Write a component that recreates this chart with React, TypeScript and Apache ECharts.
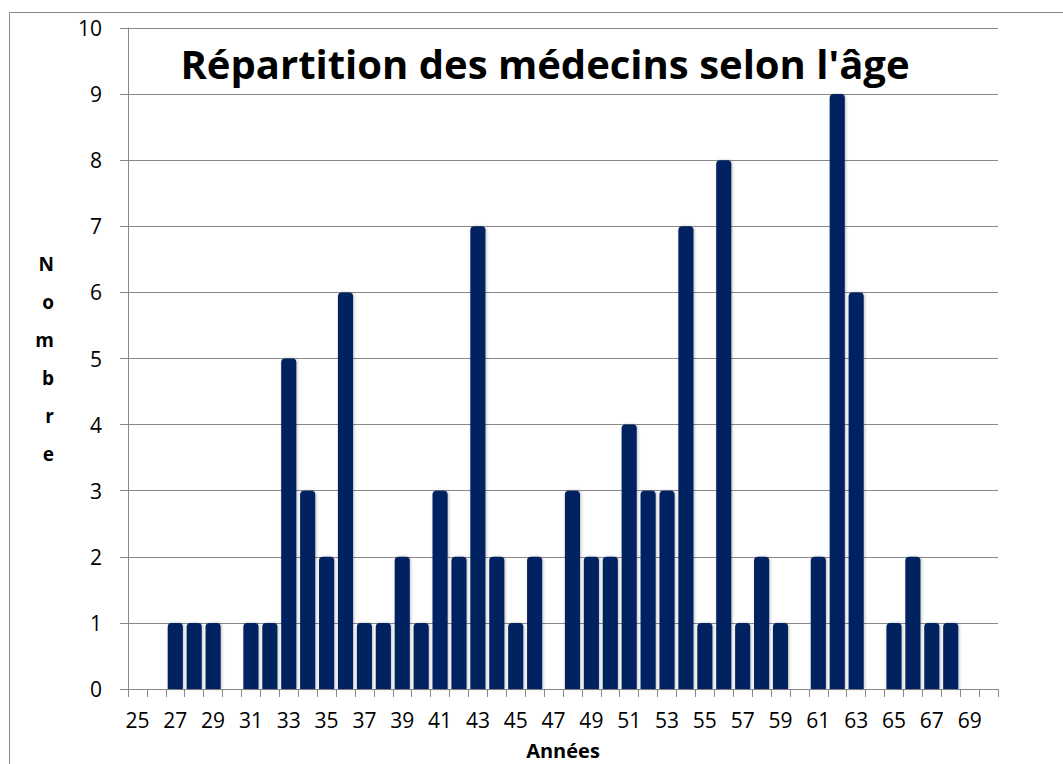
import React, { useEffect, useRef } from "react";
import * as echarts from "echarts";

const ages: string[] = [
  "25","26","27","28","29","30","31","32","33","34","35","36","37","38","39","40","41","42","43","44","45","46","47",
  "48","49","50","51","52","53","54","55","56","57","58","59","60","61","62","63","64","65","66","67","68","69","70",
];
const counts: number[] = [
  0, 0, 1, 1, 1, 0, 1, 1, 5, 3, 2, 6, 1, 1, 2, 1, 3, 2, 7, 2, 1, 2, 0,
  3, 2, 2, 4, 3, 3, 7, 1, 8, 1, 2, 1, 0, 2, 9, 6, 0, 1, 2, 1, 1, 0, 0,
];
const titleText = "Répartition des médecins selon l'âge";
const yName = "Nombre";
const xName = "Années";

export default function App() {
  const ref = useRef<HTMLDivElement>(null);
  useEffect(() => {
    if (!ref.current) return;
    const chart = echarts.init(ref.current, undefined, { renderer: "svg" });
    const gray = "#898989";
    const font = "'Open Sans', 'Liberation Sans', sans-serif";
    chart.setOption({
      animation: false,
      backgroundColor: "#ffffff",
      title: {
        text: titleText,
        left: 540,
        textAlign: "center",
        top: 38,
        textStyle: { fontFamily: font, fontWeight: "bold", fontSize: 40, color: "#000" },
      },
      graphic: [
        {
          type: "rect",
          shape: { x: 9.5, y: 12.5, width: 1070, height: 770 },
          style: { fill: "none", stroke: gray, lineWidth: 1 },
          silent: true,
          z: -1,
        },
      ],
      grid: { left: 128, top: 28, width: 870, height: 661, containLabel: false, outerBoundsMode: "none" },
      xAxis: {
        type: "category",
        data: ages,
        name: xName,
        nameLocation: "middle",
        nameGap: 51,
        nameTextStyle: { fontFamily: font, fontWeight: "bold", fontSize: 20, color: "#000" },
        axisLine: { lineStyle: { color: gray, width: 1 } },
        axisTick: { show: true, interval: 0, length: 8, alignWithLabel: false, lineStyle: { color: gray } },
        axisLabel: { interval: 1, margin: 20, fontFamily: font, fontSize: 21, color: "#000" },
        splitLine: { show: false },
      },
      yAxis: {
        type: "value",
        min: 0,
        max: 10,
        interval: 1,
        name: yName.split("").join("\n"),
        nameLocation: "middle",
        nameRotate: 0,
        nameGap: 74,
        nameTextStyle: { fontFamily: font, fontWeight: "bold", fontSize: 19, color: "#000", lineHeight: 38, padding: [8, 0, 0, 0] },
        axisLine: { show: true, lineStyle: { color: gray, width: 1 } },
        axisTick: { show: true, length: 8, lineStyle: { color: gray } },
        axisLabel: { margin: 26, fontFamily: font, fontSize: 21, color: "#000" },
        splitLine: { show: true, lineStyle: { color: gray, width: 1 } },
      },
      series: [
        {
          type: "bar",
          data: counts,
          barCategoryGap: "20%",
          itemStyle: {
            color: "#002060",
            borderRadius: [4, 4, 0, 0],
            shadowColor: "rgba(0,0,0,0.25)",
            shadowBlur: 3,
            shadowOffsetX: 1,
            shadowOffsetY: 0,
          },
        },
      ],
    });
    return () => chart.dispose();
  }, []);
  return (
    <div
      ref={ref}
      style={{ position: "fixed", left: 0, top: 0, width: 1063, height: 764, background: "#fff" }}
    />
  );
}
